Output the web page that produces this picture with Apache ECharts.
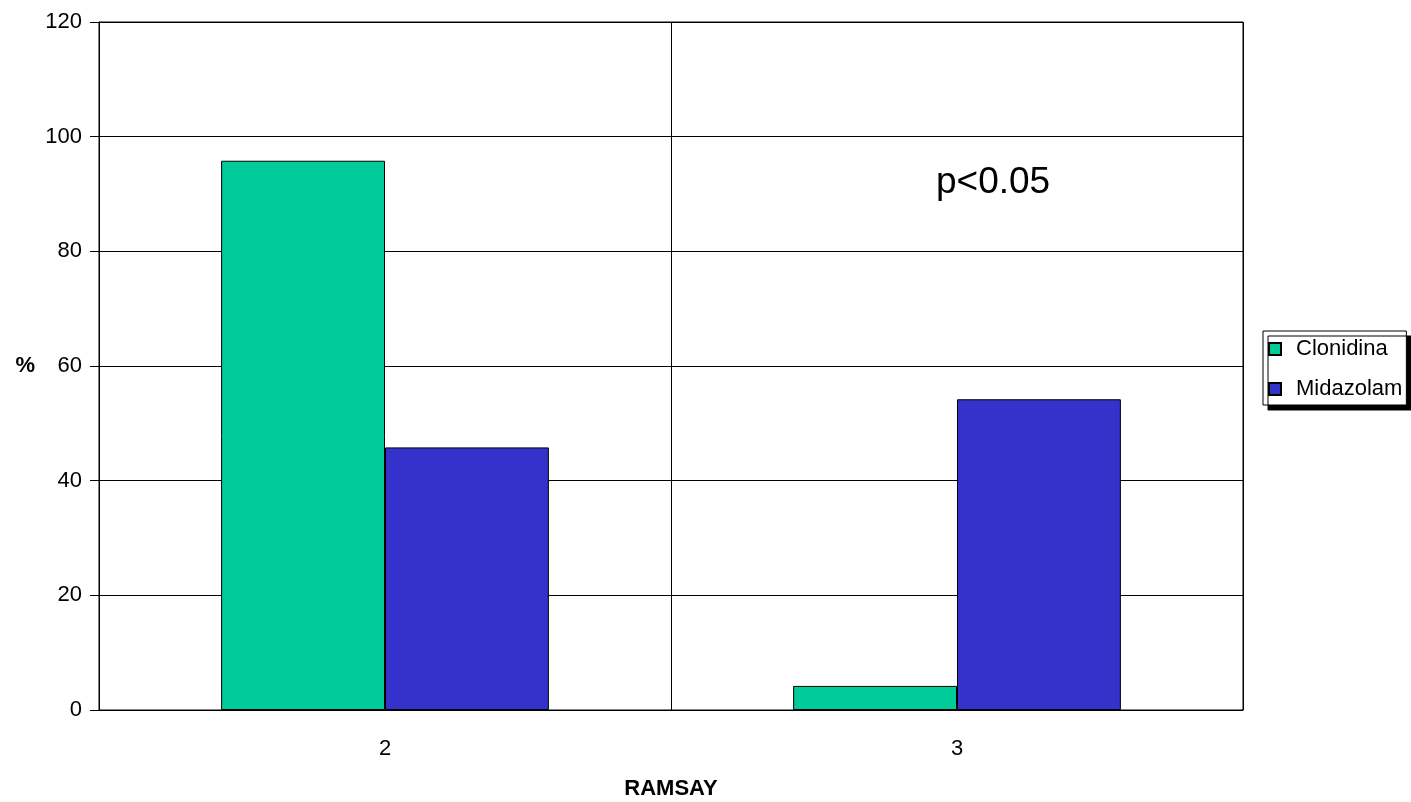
<!DOCTYPE html>
<html>
<head>
<meta charset="utf-8">
<script src="https://cdn.jsdelivr.net/npm/echarts@6/dist/echarts.min.js"></script>
<style>
  html, body { margin: 0; padding: 0; background: #fff; }
  #chart { width: 1411px; height: 802px; }
</style>
</head>
<body>
<div id="chart"></div>
<script>
// RAMSAY sedation scores, percentage of patients per group
const categories = ['2', '3'];
const clonidina = [95.8, 4.2];
const midazolam = [45.8, 54.2];
const seriesNames = ['Clonidina', 'Midazolam'];
const yTicks = { min: 0, max: 120, interval: 20 };

const FONT = 'Liberation Sans, Arial, sans-serif';
const chart = echarts.init(document.getElementById('chart'));

chart.setOption({
  animation: false,
  backgroundColor: '#ffffff',
  textStyle: { fontFamily: FONT },
  title: {
    text: 'p<0.05',
    left: 936,
    top: 164,
    padding: 0,
    textStyle: { fontFamily: FONT, fontSize: 37, fontWeight: 'normal', color: '#000' }
  },
  grid: {
    left: 99, right: 168, top: 22, bottom: 92,
    outerBoundsMode: 'none',
    containLabel: false,
    show: true, borderColor: '#000', borderWidth: 1
  },
  legend: {
    orient: 'vertical',
    left: 1263,
    top: 331,
    padding: [6, 4, 4, 5],
    itemGap: 16,
    itemWidth: 12,
    itemHeight: 12,
    icon: 'rect',
    data: seriesNames,
    backgroundColor: '#fff',
    borderColor: '#000',
    borderWidth: 1,
    borderRadius: 0,
    shadowColor: '#000',
    shadowBlur: 0,
    shadowOffsetX: 5,
    shadowOffsetY: 5,
    textStyle: { fontFamily: FONT, fontSize: 22, lineHeight: 24, color: '#000', padding: [0, 0, 0, 10] }
  },
  xAxis: {
    type: 'category',
    data: categories,
    name: 'RAMSAY',
    nameLocation: 'middle',
    nameGap: 68,
    nameTextStyle: { fontFamily: FONT, fontSize: 22, fontWeight: 'bold', color: '#000' },
    axisLine: { lineStyle: { color: '#000', width: 1 } },
    axisTick: { show: false },
    axisLabel: { fontFamily: FONT, fontSize: 22, color: '#000', margin: 28 },
    splitLine: { show: true, lineStyle: { color: '#000', width: 1 } }
  },
  yAxis: {
    type: 'value',
    min: yTicks.min,
    max: yTicks.max,
    interval: yTicks.interval,
    name: '%',
    nameLocation: 'middle',
    nameRotate: 0,
    nameGap: 64,
    nameTextStyle: { fontFamily: FONT, fontSize: 22, fontWeight: 'bold', color: '#000', padding: [4, 0, 0, 0] },
    axisLine: { show: true, lineStyle: { color: '#000', width: 1 } },
    axisTick: { show: true, length: 9, lineStyle: { color: '#000' } },
    axisLabel: { fontFamily: FONT, fontSize: 22, color: '#000', margin: 17 },
    splitLine: { show: true, lineStyle: { color: '#000', width: 1 } }
  },
  series: [
    {
      name: seriesNames[0],
      type: 'bar',
      data: clonidina,
      barGap: '0%',
      barCategoryGap: '42.7%',
      itemStyle: { color: '#00cc99', borderColor: '#000', borderWidth: 1 }
    },
    {
      name: seriesNames[1],
      type: 'bar',
      data: midazolam,
      barGap: '0%',
      barCategoryGap: '42.7%',
      itemStyle: { color: '#3333cc', borderColor: '#000', borderWidth: 1 }
    }
  ]
});
</script>
</body>
</html>
